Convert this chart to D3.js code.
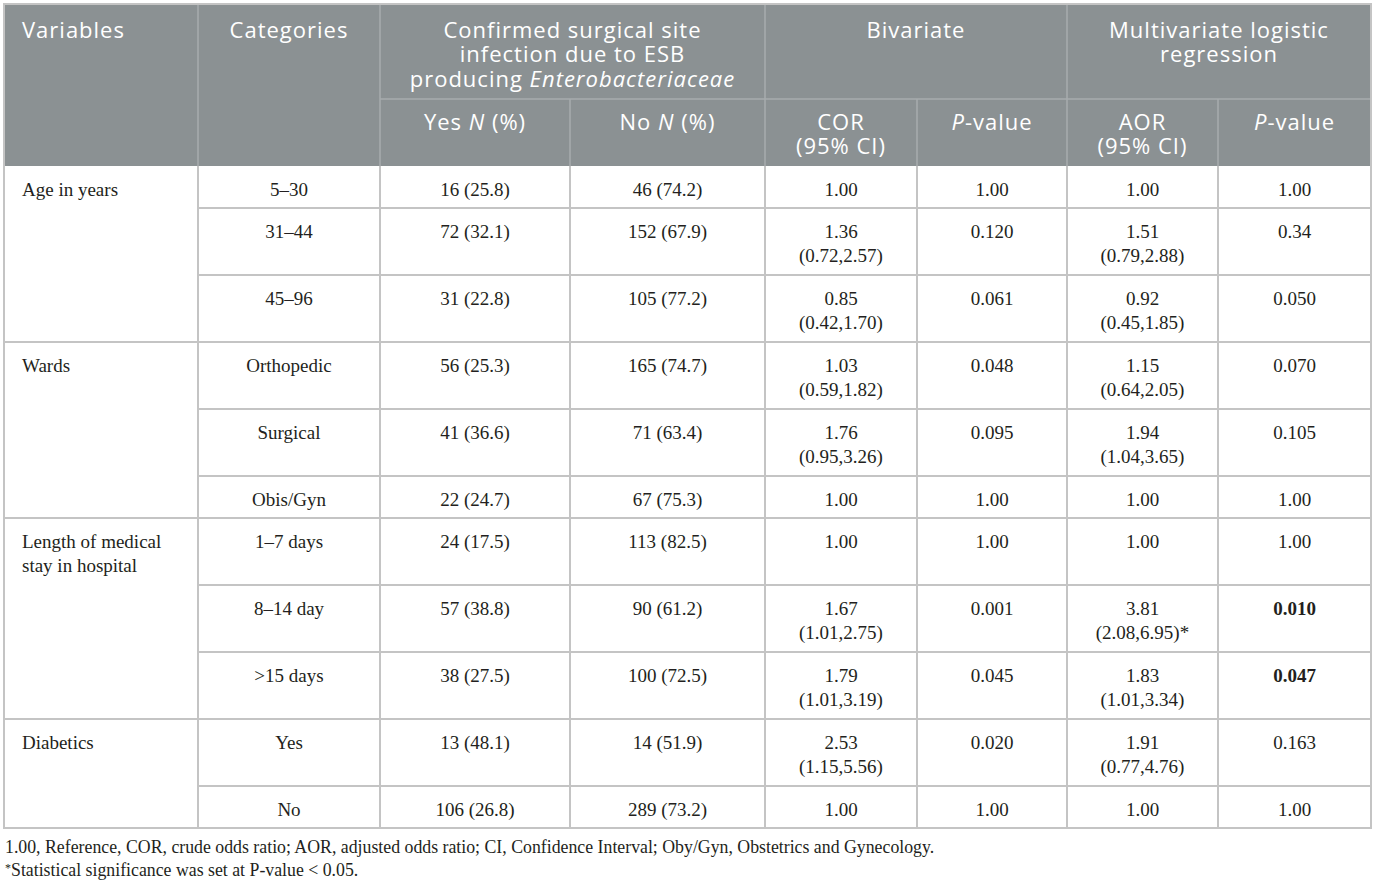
<!DOCTYPE html>
<html lang="en">
<head>
<meta charset="utf-8">
<title>Factors associated with ESBL SSI</title>
<script src="https://cdn.jsdelivr.net/npm/d3@7"></script>
<style>
  body { margin: 0; background: #fff; }
  svg { display: block; }
  .hd { font-family: "Open Sans", "Noto Sans", sans-serif; font-size: 22px; fill: #fff; letter-spacing: 1px; }
  .bd { font-family: "Liberation Serif", "Times New Roman", serif; font-size: 19px; fill: #231f20; }
  .fn { font-family: "Liberation Serif", "Times New Roman", serif; font-size: 17.8px; fill: #231f20; }
</style>
</head>
<body>
<script>

// ---- data ----
var variables = [["Age in years"], ["Wards"], ["Length of medical", "stay in hospital"], ["Diabetics"]];
var categories = ["5\u201330", "31\u201344", "45\u201396", "Orthopedic", "Surgical", "Obis/Gyn",
                  "1\u20137 days", "8\u201314 day", ">15 days", "Yes", "No"];
var groupOf = [0, 0, 0, 1, 1, 1, 2, 2, 2, 3, 3];

var yesCount = [16, 72, 31, 56, 41, 22, 24, 57, 38, 13, 106];
var yesPct   = [25.8, 32.1, 22.8, 25.3, 36.6, 24.7, 17.5, 38.8, 27.5, 48.1, 26.8];
var noCount  = [46, 152, 105, 165, 71, 67, 113, 90, 100, 14, 289];
var noPct    = [74.2, 67.9, 77.2, 74.7, 63.4, 75.3, 82.5, 61.2, 72.5, 51.9, 73.2];

var corEst = [1.00, 1.36, 0.85, 1.03, 1.76, 1.00, 1.00, 1.67, 1.79, 2.53, 1.00];
var corCI  = [null, [0.72, 2.57], [0.42, 1.70], [0.59, 1.82], [0.95, 3.26], null, null,
              [1.01, 2.75], [1.01, 3.19], [1.15, 5.56], null];
var corP   = ["1.00", "0.120", "0.061", "0.048", "0.095", "1.00", "1.00", "0.001", "0.045", "0.020", "1.00"];

var aorEst = [1.00, 1.51, 0.92, 1.15, 1.94, 1.00, 1.00, 3.81, 1.83, 1.91, 1.00];
var aorCI  = [null, [0.79, 2.88], [0.45, 1.85], [0.64, 2.05], [1.04, 3.65], null, null,
              [2.08, 6.95], [1.01, 3.34], [0.77, 4.76], null];
var aorStar = [7];
var aorP   = ["1.00", "0.34", "0.050", "0.070", "0.105", "1.00", "1.00", "0.010", "0.047", "0.163", "1.00"];
var aorBold = [7, 8];

var footnotes = [
  "1.00, Reference, COR, crude odds ratio; AOR, adjusted odds ratio; CI, Confidence Interval; Oby/Gyn, Obstetrics and Gynecology.",
  "Statistical significance was set at P-value < 0.05."
];

// ---- layout ----
var W = 1375, H = 886;
var colEdges = [4, 198, 380, 570, 765, 917, 1067, 1218, 1371];
var tableTop = 4, midHead = 99, headBottom = 166;
var lineGap = 24.5;
var headFill = "#8b9193", headLine = "#a7acae", gridLine = "#c4c4c4";

var svg = d3.select("body").append("svg")
  .attr("width", W).attr("height", H);

function fmt2(v) { return d3.format(".2f")(v); }
function ciText(ci) { return "(" + fmt2(ci[0]) + "," + fmt2(ci[1]) + ")"; }
function cx(c) { return (colEdges[c] + colEdges[c + 1]) / 2; }

// build body rows
var rows = categories.map(function(cat, i) {
  var g = groupOf[i];
  var firstOfGroup = i === 0 || groupOf[i - 1] !== g;
  var lastOfGroup = i === categories.length - 1 || groupOf[i + 1] !== g;
  var cor = [fmt2(corEst[i])];
  if (corCI[i]) cor.push(ciText(corCI[i]));
  var aor = [fmt2(aorEst[i])];
  if (aorCI[i]) aor.push(ciText(aorCI[i]) + (aorStar.indexOf(i) >= 0 ? "*" : ""));
  var cells = [
    firstOfGroup ? variables[g] : [],
    [cat],
    [yesCount[i] + " (" + yesPct[i].toFixed(1) + ")"],
    [noCount[i] + " (" + noPct[i].toFixed(1) + ")"],
    cor,
    [corP[i]],
    aor,
    [aorP[i]]
  ];
  var n = d3.max(cells, function(c) { return c.length; });
  return { cells: cells, lines: n, last: lastOfGroup, bold: aorBold.indexOf(i) >= 0 };
});

var heights = rows.map(function(r) { return 42 + 25 * (r.lines - 1); });
var tops = [headBottom].concat(Array.from(d3.cumsum(heights), function(v) { return headBottom + v; }));
var bodyBottom = tops[tops.length - 1];

// ---- header ----
svg.append("rect")
  .attr("x", colEdges[0]).attr("y", tableTop)
  .attr("width", colEdges[8] - colEdges[0]).attr("height", headBottom - tableTop)
  .attr("fill", headFill);

var headTop = [
  { c0: 0, c1: 1, align: "left", lines: [[{ t: "Variables" }]] },
  { c0: 1, c1: 2, lines: [[{ t: "Categories" }]] },
  { c0: 2, c1: 4, lines: [[{ t: "Confirmed surgical site" }], [{ t: "infection due to ESB" }],
                          [{ t: "producing " }, { t: "Enterobacteriaceae", i: true }]] },
  { c0: 4, c1: 6, lines: [[{ t: "Bivariate" }]] },
  { c0: 6, c1: 8, lines: [[{ t: "Multivariate logistic" }], [{ t: "regression" }]] }
];
var headSub = [
  { c0: 2, c1: 3, lines: [[{ t: "Yes " }, { t: "N", i: true }, { t: " (%)" }]] },
  { c0: 3, c1: 4, lines: [[{ t: "No " }, { t: "N", i: true }, { t: " (%)" }]] },
  { c0: 4, c1: 5, lines: [[{ t: "COR" }], [{ t: "(95% CI)" }]] },
  { c0: 5, c1: 6, lines: [[{ t: "P", i: true }, { t: "-value" }]] },
  { c0: 6, c1: 7, lines: [[{ t: "AOR" }], [{ t: "(95% CI)" }]] },
  { c0: 7, c1: 8, lines: [[{ t: "P", i: true }, { t: "-value" }]] }
];

function drawHead(list, baseY) {
  list.forEach(function(h) {
    h.lines.forEach(function(segs, li) {
      var left = h.align === "left";
      var t = svg.append("text").attr("class", "hd")
        .attr("x", left ? colEdges[h.c0] + 18 : (colEdges[h.c0] + colEdges[h.c1]) / 2)
        .attr("y", baseY + li * lineGap)
        .attr("text-anchor", left ? "start" : "middle");
      segs.forEach(function(s) {
        t.append("tspan").text(s.t).attr("font-style", s.i ? "italic" : null);
      });
    });
  });
}
drawHead(headTop, 37.5);
drawHead(headSub, 129.5);

// header rules
svg.append("line").attr("x1", colEdges[2]).attr("x2", colEdges[8])
  .attr("y1", midHead).attr("y2", midHead)
  .attr("stroke", headLine).attr("stroke-width", 1.5);
[1, 2, 4, 6].forEach(function(c) {
  svg.append("line").attr("x1", colEdges[c]).attr("x2", colEdges[c])
    .attr("y1", tableTop).attr("y2", headBottom)
    .attr("stroke", headLine).attr("stroke-width", 1.5);
});
[3, 5, 7].forEach(function(c) {
  svg.append("line").attr("x1", colEdges[c]).attr("x2", colEdges[c])
    .attr("y1", midHead).attr("y2", headBottom)
    .attr("stroke", headLine).attr("stroke-width", 1.5);
});

// ---- body ----
var grid = svg.append("g").attr("stroke", gridLine).attr("stroke-width", 2);
rows.forEach(function(r, i) {
  if (i === rows.length - 1) return;
  grid.append("line")
    .attr("x1", r.last ? colEdges[0] : colEdges[1]).attr("x2", colEdges[8])
    .attr("y1", tops[i + 1]).attr("y2", tops[i + 1]);
});
colEdges.slice(1, 8).forEach(function(x) {
  grid.append("line").attr("x1", x).attr("x2", x)
    .attr("y1", headBottom).attr("y2", bodyBottom);
});
// outer border
svg.append("rect")
  .attr("x", colEdges[0]).attr("y", tableTop)
  .attr("width", colEdges[8] - colEdges[0]).attr("height", bodyBottom - tableTop)
  .attr("fill", "none").attr("stroke", gridLine).attr("stroke-width", 2);

rows.forEach(function(r, i) {
  r.cells.forEach(function(lines, c) {
    lines.forEach(function(txt, li) {
      svg.append("text").attr("class", "bd")
        .attr("x", c === 0 ? colEdges[0] + 18 : cx(c))
        .attr("y", tops[i] + 30 + li * 24)
        .attr("text-anchor", c === 0 ? "start" : "middle")
        .attr("font-weight", c === 7 && r.bold ? "bold" : null)
        .text(txt);
    });
  });
});

// ---- footnotes ----
svg.append("text").attr("class", "fn")
  .attr("x", 5).attr("y", bodyBottom + 25)
  .text(footnotes[0]);
var f2 = svg.append("text").attr("class", "fn")
  .attr("x", 5).attr("y", bodyBottom + 48);
f2.append("tspan").text("*").attr("font-size", "12px").attr("dy", -4);
f2.append("tspan").text(footnotes[1]).attr("dy", 4);

</script>
</body>
</html>
